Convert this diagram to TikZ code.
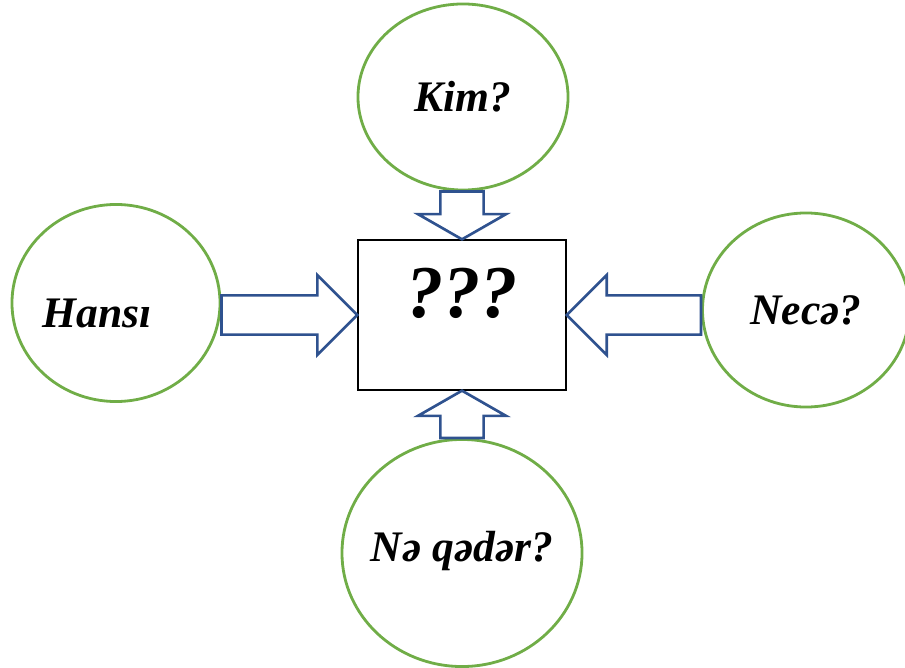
\documentclass[tikz,border=0pt]{standalone}
\usepackage{fontspec}
\setmainfont{Liberation Serif}
\usetikzlibrary{shapes.geometric,calc}
\definecolor{bubblegreen}{HTML}{70AD47}
\definecolor{arrowblue}{HTML}{2F528F}
% block arrow: from, to, shaft half-width, head half-width, head length
\newcommand{\blockarrow}[5]{%
    \coordinate (ba-h) at ($(#2)!#5!(#1)$);
    \draw[blockarr] ($(#1)!#3!90:(#2)$) -- ($(ba-h)!#3!-90:(#1)$) -- ($(ba-h)!#4!-90:(#1)$)
        -- (#2) -- ($(ba-h)!#4!90:(#1)$) -- ($(ba-h)!#3!90:(#1)$) -- ($(#1)!#3!-90:(#2)$) -- cycle;
}

\begin{document}
\begin{tikzpicture}[x=0.025cm, y=-0.025cm,
    every node/.style={font=\fontsize{31}{36}\selectfont\bfseries\itshape},
    bubble/.style={draw=bubblegreen, ellipse, line width=2pt, inner sep=0pt},
    box/.style={draw, rectangle, line width=0.9pt, minimum width=5.2cm, minimum height=3.75cm},
    blockarr/.style={draw=arrowblue, line width=1.9pt, line join=miter}]
    \useasboundingbox (0,0) rectangle (905,668);

    \node[box, label={[yshift=0.55cm, font=\fontsize{53}{60}\selectfont\bfseries\itshape]center:???}] (box) at (462,315) {};
    \node[bubble, minimum width=5.25cm, minimum height=4.65cm] (kim) at (463,97) {Kim?};
    \node[bubble, minimum width=5.2cm, minimum height=4.925cm,
        label={[xshift=-0.475cm, yshift=-0.25cm]center:Hansı}] (hansi) at (116,303) {};
    \node[bubble, minimum width=5.175cm, minimum height=4.85cm] (neca) at (806,310) {Necə?};
    \node[bubble, minimum width=6cm, minimum height=5.675cm,
        label={[yshift=0.05cm]center:Nə qədər?}] (qeder) at (462,553) {};

    \blockarrow{kim.south -| box.north}{box.north}{0.54cm}{1.1cm}{0.63cm}
    \blockarrow{box.west -| hansi.east}{box.west}{0.49cm}{1cm}{1cm}
    \blockarrow{box.east -| neca.west}{box.east}{0.49cm}{1cm}{1cm}
    \blockarrow{qeder.north -| box.south}{box.south}{0.54cm}{1.1cm}{0.63cm}
\end{tikzpicture}
\end{document}
